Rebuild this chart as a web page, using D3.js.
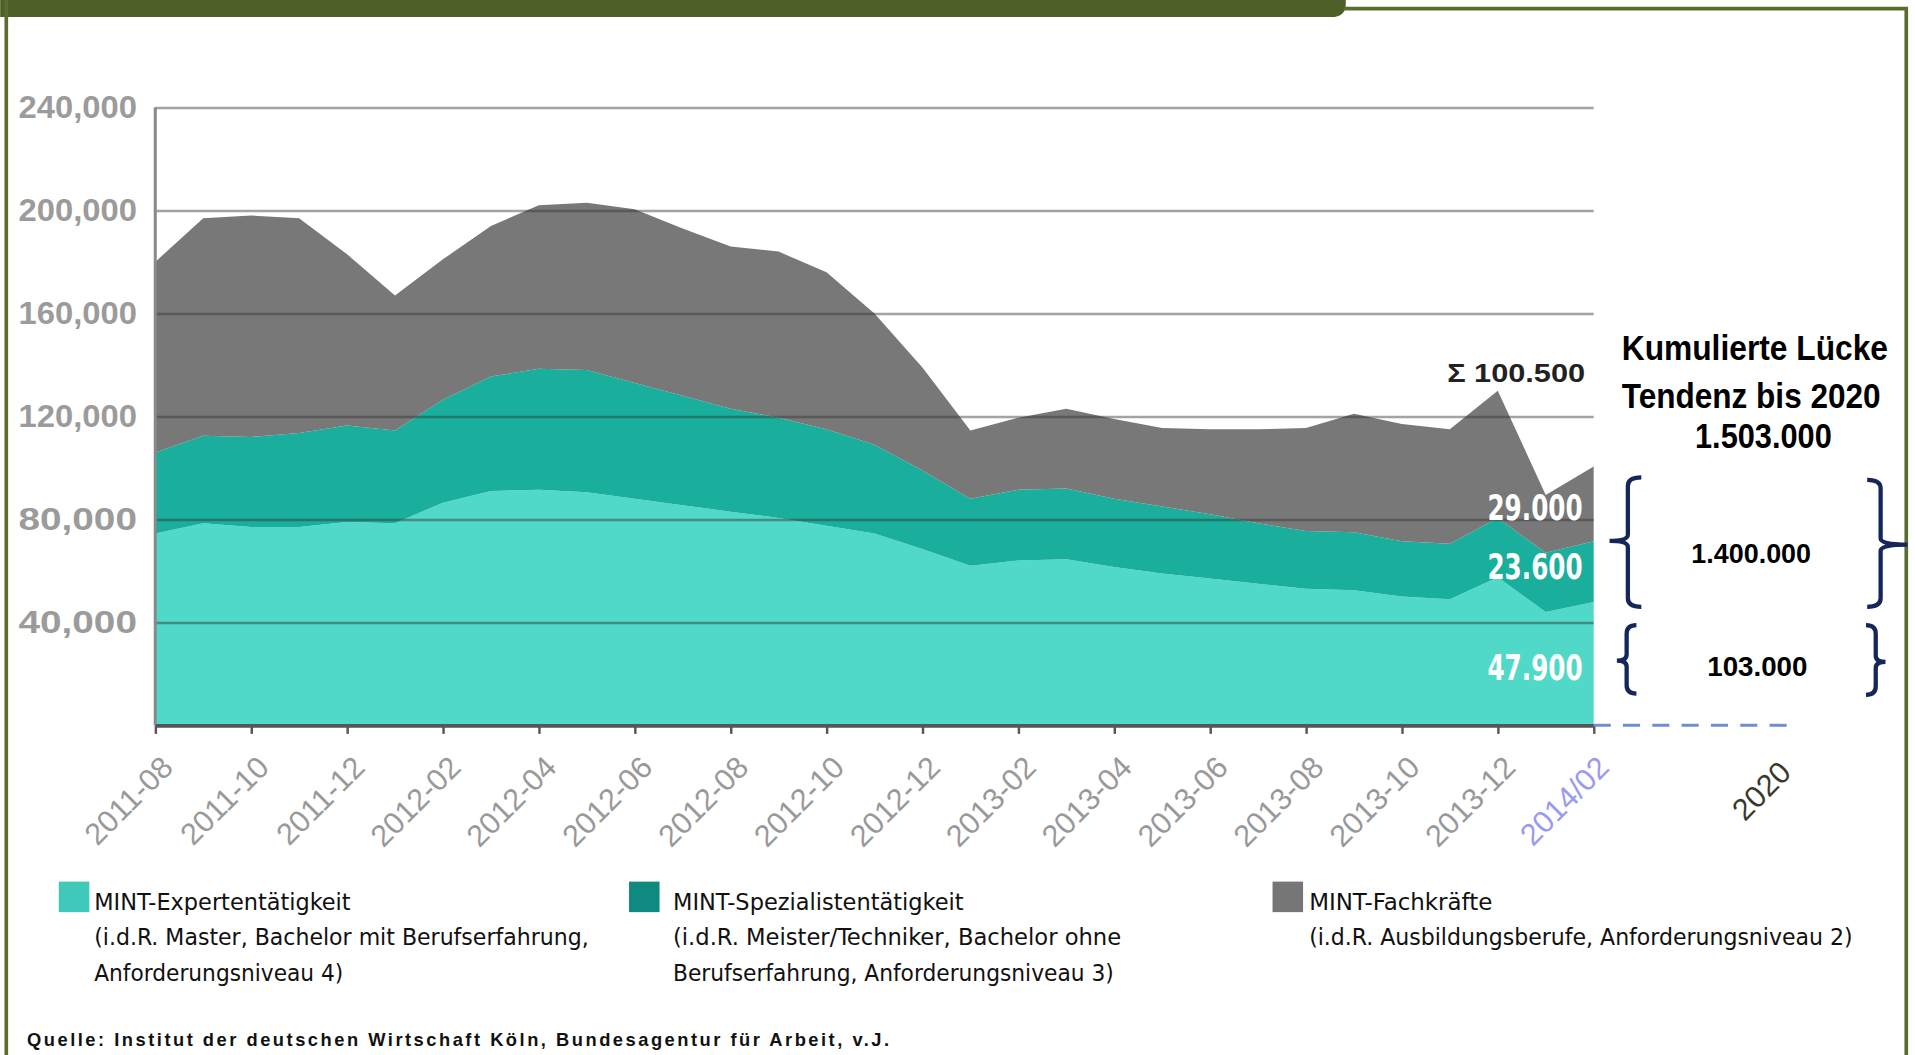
<!DOCTYPE html>
<html>
<head>
<meta charset="utf-8">
<script src="https://cdn.jsdelivr.net/npm/d3@7"></script>
<style>
html, body { margin: 0; padding: 0; background: #fff; overflow: hidden; }
text { font-family: "Liberation Sans", Arial, sans-serif; }
.narrow { font-family: "Liberation Sans Narrow", "DejaVu Sans Condensed", "Liberation Sans", sans-serif; font-stretch: condensed; }
</style>
</head>
<body>
<div class="chart"></div>
<script>
// monthly values
const months = ["2011-08","2011-09","2011-10","2011-11","2011-12",
  "2012-01","2012-02","2012-03","2012-04","2012-05","2012-06","2012-07","2012-08","2012-09","2012-10","2012-11","2012-12",
  "2013-01","2013-02","2013-03","2013-04","2013-05","2013-06","2013-07","2013-08","2013-09","2013-10","2013-11","2013-12",
  "2014-01","2014-02"]

const expert = [74500,78500,77000,77000,79000,78500,86500,91000,91500,90500,88000,85500,83000,80500,77500,74500,68500,
  62000,64000,64500,61500,59000,57000,55000,53000,52500,50000,49000,57500,44000,47900]

const spezialist = [31500,34000,35000,36500,37500,36000,40000,44500,47000,47500,45000,42500,40000,39000,37500,34500,30500,
  26000,27500,27500,26500,26000,25000,23500,22500,22500,21500,21500,23000,23000,23600]

const fachkraefte = [74000,84500,86000,83500,66500,52500,54500,58500,63500,65000,67500,65000,63000,64500,61000,51000,40000,
  26500,28000,31000,31000,30500,33000,36500,40000,46000,45500,44500,49500,22500,29000]

const yTicks = [40000, 80000, 120000, 160000, 200000, 240000]
const tickMonths = months.filter((d, i) => i % 2 === 0)
const tickLabels = ["2011-08","2011-10","2011-12","2012-02","2012-04","2012-06","2012-08","2012-10",
  "2012-12","2013-02","2013-04","2013-06","2013-08","2013-10","2013-12","2014/02"]

const seriesNames = ["MINT-Expertentätigkeit", "MINT-Spezialistentätigkeit", "MINT-Fachkräfte"]
const seriesNotes = [
  ["(i.d.R. Master, Bachelor mit Berufserfahrung,", "Anforderungsniveau 4)"],
  ["(i.d.R. Meister/Techniker,  Bachelor ohne", "Berufserfahrung, Anforderungsniveau 3)"],
  ["(i.d.R. Ausbildungsberufe, Anforderungsniveau 2)"]
]
const lastLabels = ["47.900", "23.600", "29.000"]

const W = 1568, H = 864
const plot = {left: 127, right: 1305, top: 88, bottom: 594}

const svg = d3.select(".chart").append("svg")
    .attr("width", 1915)
    .attr("height", 1055)
    .attr("viewBox", `0 0 ${W} ${H}`)

// frame
svg.append("path")
    .attr("d", "M0,0 H1102 V3 Q1102,14 1090,14 H0 Z")
    .attr("fill", "#4e5f28")
svg.append("path")
    .attr("d", `M1100,7 H1561 V${H} M5,0 V${H}`)
    .attr("fill", "none")
    .attr("stroke", "#5b6c30")
    .attr("stroke-width", 3)

const xScale = d3.scalePoint()
    .domain(months)
    .range([plot.left, plot.right])

const yScale = d3.scaleLinear()
    .domain([0, 240000])
    .range([plot.bottom, plot.top])

const rows = months.map((m, i) => ({month: m, expert: expert[i], spezialist: spezialist[i], fachkraefte: fachkraefte[i]}))
const stack = d3.stack().keys(["expert", "spezialist", "fachkraefte"])(rows)
const colors = ["#50d8c8", "#1aae9c", "#787878"]
const legendColors = ["#3ec9ba", "#0f8a80", "#767676"]

const area = d3.area()
    .x(d => xScale(d.data.month))
    .y0(d => yScale(d[0]))
    .y1(d => yScale(d[1]))

svg.append("g").selectAll("path")
    .data(stack)
    .enter()
    .append("path")
        .attr("d", area)
        .attr("fill", (d, i) => colors[i])

// grid lines on top of the areas
const grid = svg.append("g")
    .attr("transform", `translate(${plot.left},0)`)
    .call(d3.axisLeft(yScale).tickValues(yTicks).tickSize(-(plot.right - plot.left)).tickFormat(""))
grid.select(".domain").remove()
grid.selectAll("line").attr("stroke", "rgba(50,50,50,0.45)").attr("stroke-width", 2)

// y axis
svg.append("line")
    .attr("x1", plot.left).attr("x2", plot.left)
    .attr("y1", plot.top).attr("y2", plot.bottom)
    .attr("stroke", "#8a8a8a").attr("stroke-width", 2.5)

svg.append("g").selectAll("text")
    .data(yTicks)
    .enter()
    .append("text")
        .attr("x", 112)
        .attr("y", d => yScale(d) + 9)
        .attr("text-anchor", "end")
        .attr("font-size", 25)
        .attr("font-weight", "bold")
        .attr("fill", "#9b9b9b")
        .attr("textLength", 97)
        .attr("lengthAdjust", "spacingAndGlyphs")
        .text(d3.format(","))

// x axis
const xAxis = svg.append("g")
    .attr("transform", `translate(0,${plot.bottom})`)
    .call(d3.axisBottom(xScale).tickValues(tickMonths).tickSize(7).tickFormat("").tickSizeOuter(0))
xAxis.select(".domain").attr("stroke", "#555").attr("stroke-width", 3)
xAxis.selectAll(".tick line").attr("stroke", "#555").attr("stroke-width", 2)

svg.append("g").selectAll("text")
    .data(tickMonths)
    .enter()
    .append("text")
        .attr("transform", (d, i) => `translate(${xScale(d) + (i === tickMonths.length - 1 ? 14 : 16)},${plot.bottom + 36}) rotate(-45)`)
        .attr("text-anchor", "end")
        .attr("font-size", 25)
        .attr("fill", (d, i) => i === tickMonths.length - 1 ? "#9a9af0" : "#999")
        .text((d, i) => tickLabels[i])

// forecast part to the right
const step = xScale.step()
svg.append("line")
    .attr("x1", plot.right).attr("x2", plot.right + step * 4.15)
    .attr("y1", plot.bottom).attr("y2", plot.bottom)
    .attr("stroke", "#6f8fd0").attr("stroke-width", 2.5)
    .attr("stroke-dasharray", "14,10")

svg.append("text")
    .attr("transform", `translate(${plot.right + step * 4.15},${plot.bottom + 40}) rotate(-45)`)
    .attr("text-anchor", "end")
    .attr("font-size", 25)
    .attr("fill", "#3a3a2a")
    .text("2020")

// labels for the last month
const last = stack.map(s => s[s.length - 1])
const xLast = xScale(months[months.length - 1])
const labelShift = [13, 6, 13]
svg.append("g").selectAll("text")
    .data(last)
    .enter()
    .append("text")
        .attr("class", "narrow")
        .attr("x", xLast - 9)
        .attr("y", (d, i) => yScale(i === 0 ? d[1] / 2 : (d[0] + d[1]) / 2) + labelShift[i])
        .attr("text-anchor", "end")
        .attr("font-size", 29)
        .attr("font-weight", "bold")
        .attr("fill", "#fff")
        .attr("textLength", 78)
        .attr("lengthAdjust", "spacingAndGlyphs")
        .text((d, i) => lastLabels[i])

svg.append("text")
    .attr("x", 1298)
    .attr("y", 313)
    .attr("text-anchor", "end")
    .attr("font-size", 21)
    .attr("font-weight", "bold")
    .attr("fill", "#222")
    .attr("textLength", 113)
    .attr("lengthAdjust", "spacingAndGlyphs")
    .text("Σ 100.500")

// cumulative gap box
const note = svg.append("g").attr("class", "narrow").attr("font-weight", "bold").attr("fill", "#000")
note.append("text").attr("x", 1437).attr("y", 295).attr("text-anchor", "middle").attr("font-size", 28)
    .attr("textLength", 218).attr("lengthAdjust", "spacingAndGlyphs").text("Kumulierte Lücke")
note.append("text").attr("x", 1434).attr("y", 334).attr("text-anchor", "middle").attr("font-size", 28)
    .attr("textLength", 212).attr("lengthAdjust", "spacingAndGlyphs").text("Tendenz bis 2020")
note.append("text").attr("x", 1444).attr("y", 367).attr("text-anchor", "middle").attr("font-size", 28)
    .attr("textLength", 112).attr("lengthAdjust", "spacingAndGlyphs").text("1.503.000")
note.append("text").attr("x", 1434).attr("y", 461).attr("text-anchor", "middle").attr("font-size", 22)
    .attr("textLength", 98).attr("lengthAdjust", "spacingAndGlyphs").text("1.400.000")
note.append("text").attr("x", 1439).attr("y", 554).attr("text-anchor", "middle").attr("font-size", 22)
    .attr("textLength", 82).attr("lengthAdjust", "spacingAndGlyphs").text("103.000")

const brace = (x, y1, y2, ym, dir, hook, stub) =>
    `M${x + dir * hook},${y1} Q${x},${y1} ${x},${y1 + 7} L${x},${ym - 5} Q${x},${ym} ${x - dir * stub},${ym}` +
    ` Q${x},${ym} ${x},${ym + 5} L${x},${y2 - 7} Q${x},${y2} ${x + dir * hook},${y2}`

const braces = svg.append("g").attr("fill", "none").attr("stroke", "#15275a").attr("stroke-width", 3.5)
braces.append("path").attr("d", brace(1333, 391, 497, 443, 1, 11, 15))
braces.append("path").attr("d", brace(1540, 393, 497, 446, -1, 11, 22))
braces.append("path").attr("d", brace(1332, 512, 568, 541, 1, 8, 8))
braces.append("path").attr("d", brace(1536, 512, 569, 542, -1, 8, 8))

// legend
const legendX = [48, 515, 1042]
const textOffset = [29, 36, 30]
const lineLens = [[210, 405, 204], [238, 367, 361], [150, 445]]
const legend = svg.append("g").selectAll("g")
    .data(seriesNames)
    .enter()
    .append("g")
        .attr("transform", (d, i) => `translate(${legendX[i]},722)`)

legend.append("rect")
    .attr("width", 25).attr("height", 25)
    .attr("fill", (d, i) => legendColors[i])

legend.each(function(d, i) {
    const g = d3.select(this)
    const lines = [d].concat(seriesNotes[i])
    lines.forEach((t, j) => {
        g.append("text")
            .attr("class", "narrow")
            .attr("x", textOffset[i])
            .attr("y", 23 + j * 29)
            .attr("font-size", 19)
            .attr("fill", "#111")
            .attr("textLength", lineLens[i][j])
            .attr("lengthAdjust", "spacingAndGlyphs")
            .text(t)
    })
})

svg.append("text")
    .attr("x", 22)
    .attr("y", 857)
    .attr("font-size", 15)
    .attr("font-weight", "bold")
    .attr("fill", "#111")
    .attr("textLength", 706)
    .attr("lengthAdjust", "spacing")
    .text("Quelle: Institut der deutschen Wirtschaft Köln, Bundesagentur für Arbeit, v.J.")
</script>
</body>
</html>
